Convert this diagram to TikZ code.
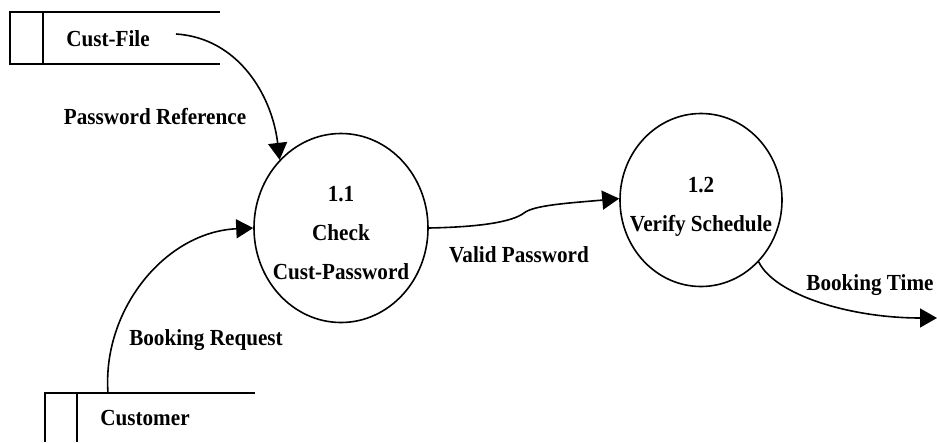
\documentclass[tikz,border=0pt]{standalone}
\usepackage{fontspec}
\setmainfont{Liberation Serif}[FakeStretch=0.92]
\usetikzlibrary{arrows.meta,shapes.geometric}
\newcommand\dfdfont{\bfseries\fontsize{23}{25}\selectfont}
\begin{document}
\begin{tikzpicture}[x=1pt,y=-1pt,
  flow/.style={line width=1.6pt,-{Triangle[length=17pt,width=19pt]}},
  proc/.style={ellipse,draw,line width=1.6pt,inner sep=0pt},
  storeline/.style={line width=1.6pt},
  lbl/.style={font=\dfdfont,inner sep=0pt,align=center}]
\useasboundingbox (0,0) rectangle (937,442);

% data stores
\draw[storeline] (220,12) -- (10,12) -- (10,64) -- (220,64);
\draw[storeline] (43,12) -- (43,64);
\node[lbl] (custfile) at (108,39) {Cust-File};
\coordinate (cfout) at (176,34);

\draw[storeline] (255,393) -- (45,393) -- (45,442);
\draw[storeline] (77,393) -- (77,442);
\node[lbl] (customer) at (145,418) {Customer};
\coordinate (custtop) at (108,393);

% processes
\node[proc, minimum width=174pt, minimum height=189pt] (c1) at (341,228) {};
\node[lbl] (c1text) at (341,233) {1.1\\[14pt]Check\\[14pt]Cust-Password};

\node[proc, minimum width=162pt, minimum height=173pt] (c2) at (701,200) {};
\node[lbl] (c2text) at (701,207) {1.2\\[14pt]Verify Schedule};

\coordinate (bookout) at (937,318);

% data flows
\draw[flow] (cfout) .. controls (238,38) and (272,95) .. (c1.132);
\draw[flow] (custtop) .. controls (102,310) and (165,232) .. (c1.180);
\draw[flow] (c1.0) .. controls (480,227) and (512,222) .. (524,213)
            .. controls (534,205) and (570,203) .. (c2.179);
\draw[flow] (c2.-47) .. controls (775,295) and (850,318) .. (bookout);

% flow labels
\node[lbl] (lpw) at (155,117) {Password Reference};
\node[lbl] (lbr) at (206,340) {Booking Request};
\node[lbl] (lvp) at (519,255) {Valid Password};
\node[lbl] (lbt) at (870,285) {Booking Time};
\end{tikzpicture}
\end{document}
